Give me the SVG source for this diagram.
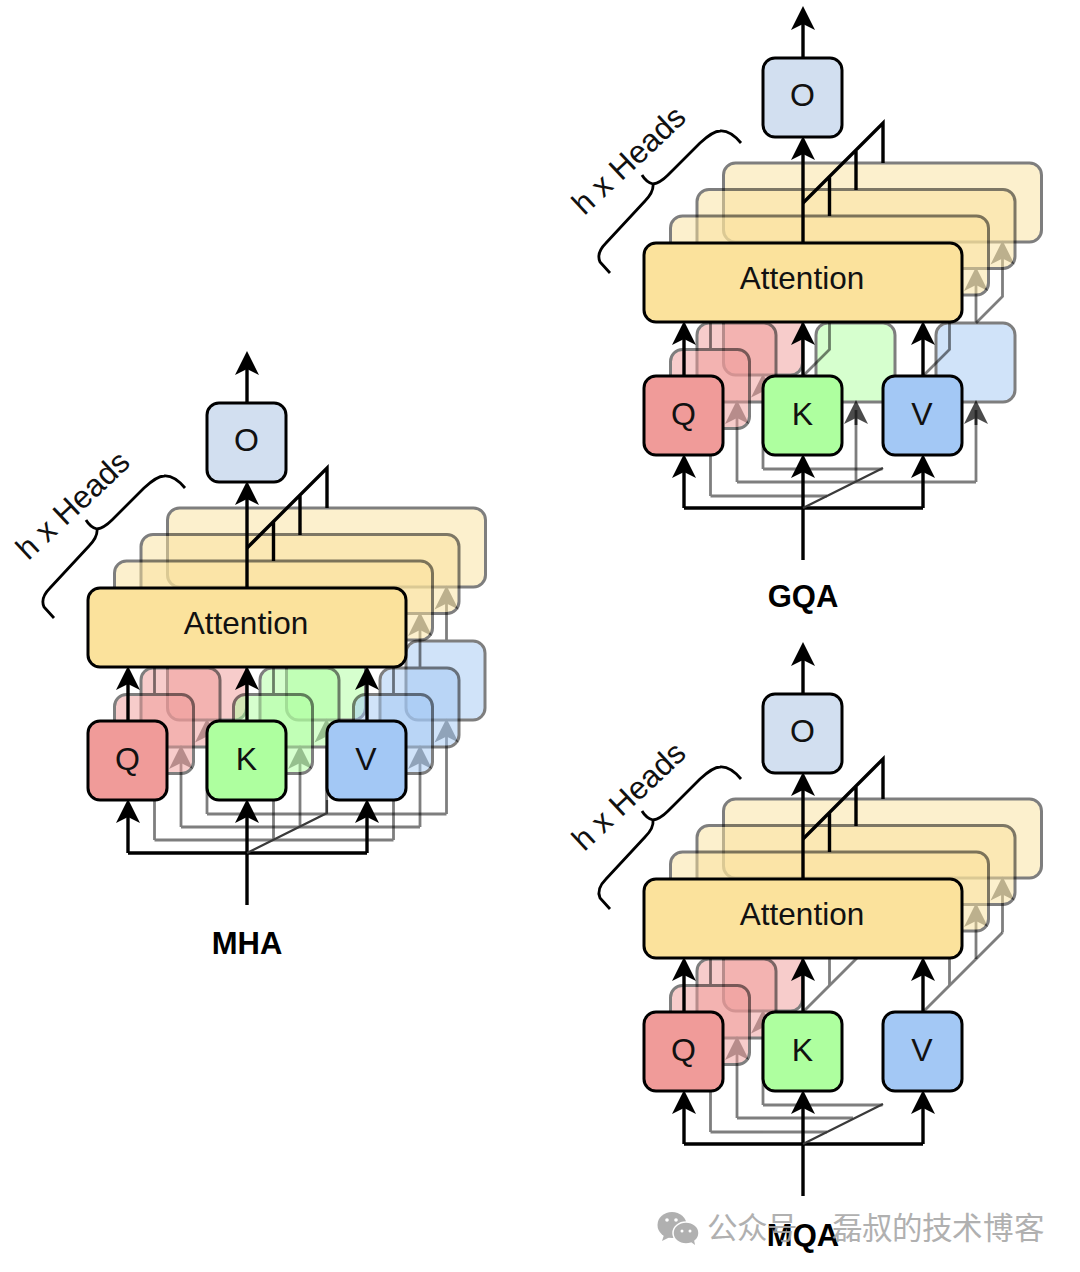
<svg xmlns="http://www.w3.org/2000/svg" width="1080" height="1272" viewBox="0 0 1080 1272">
<style>
text{font-family:"Liberation Sans",Arial,sans-serif;fill:#111}
.n{font-size:32px;text-anchor:middle}
.t{font-size:31.5px;text-anchor:middle}
.b{font-size:31px;font-weight:700;text-anchor:middle;fill:#000}
.h{font-size:31.500px;text-anchor:middle}
rect{stroke:#000;stroke-width:3}
.q{fill:#f09b99}.k{fill:#aeff9f}.v{fill:#a3c8f5}.a{fill:#fbe29c}.o{fill:#d2dff0}
.ly{opacity:.5}
.c path,.c{fill:none;stroke:#000;stroke-width:3.400}
.c .s{stroke:#000;stroke-width:2.800}
.c .d{stroke:#3a3a3a;stroke-width:2.200}
.dk{opacity:.7}
.ar{marker-end:url(#ah)}
.wm{font-family:"Noto Sans CJK SC","Liberation Sans",sans-serif;font-size:30.500px;fill:#a8a8a8}
</style>
<defs>
<marker id="ah" markerUnits="userSpaceOnUse" markerWidth="28" markerHeight="28" refX="14" refY="14" orient="auto"><path d="M0,2L24,14L0,26L6,14Z" fill="#000" stroke="none"/></marker>
<path id="brace" d="M185,488Q174,475 164,476Q157,476 144,488L112,520Q104,528 97,529M86,520Q90,527 97,529Q98,537 89,546L50,588Q40,598 44,607L54,618" fill="none" stroke="#000" stroke-width="2.800"/>
</defs>

<g id="mha" >
<g id="mha-layer3" class="ly"><g id="mha-nodes3"><rect class="a" x="167.500" y="508" width="318" height="79" rx="12"/><rect class="q" x="167.500" y="641" width="79" height="79" rx="12"/><rect class="k" x="286.500" y="641" width="79" height="79" rx="12"/><rect class="v" x="406" y="641" width="79" height="79" rx="12"/></g>
<g class="c"><path class="s" d="M207,814H446.500"/><path class="s ar" d="M207,814V728.500"/><path class="s ar" d="M326.500,814V728.500"/><path class="s ar" d="M446.500,814V728.500"/><path class="s ar" d="M207,641V595.500"/><path class="s ar" d="M326.500,641V595.500"/><path class="s ar" d="M446.500,641V595.500"/></g></g>
<g id="mha-layer2" class="ly"><g id="mha-nodes2"><rect class="a" x="141" y="534.500" width="318" height="79" rx="12"/><rect class="q" x="141" y="668" width="79" height="79" rx="12"/><rect class="k" x="260" y="668" width="79" height="79" rx="12"/><rect class="v" x="380" y="668" width="79" height="79" rx="12"/></g>
<g class="c"><path class="s" d="M181,827H420"/><path class="s ar" d="M181,827V755"/><path class="s ar" d="M300,827V755"/><path class="s ar" d="M420,827V755"/><path class="s ar" d="M181,668V622"/><path class="s ar" d="M300,668V622"/><path class="s ar" d="M420,668V622"/></g></g>
<g id="mha-layer1" class="ly"><g id="mha-nodes1"><rect class="a" x="114.500" y="561" width="318" height="79" rx="12"/><rect class="q" x="114.500" y="694.500" width="79" height="79" rx="12"/><rect class="k" x="233.500" y="694.500" width="79" height="79" rx="12"/><rect class="v" x="353.500" y="694.500" width="79" height="79" rx="12"/></g>
<g class="c"><path class="s" d="M154.500,840H393.500"/><path class="s ar" d="M154.500,840V781.500"/><path class="s ar" d="M273.500,840V781.500"/><path class="s ar" d="M393.500,840V781.500"/><path class="s ar" d="M154.500,694.500V648.500"/><path class="s ar" d="M273.500,694.500V648.500"/><path class="s ar" d="M393.500,694.500V648.500"/></g></g>
<g id="mha-connectors" class="c"><path class="ar" d="M247,905V809"/><path d="M128,853H367"/><path class="ar" d="M128,853V809"/><path class="ar" d="M367,853V809"/><path class="ar" d="M128,721V676"/><path class="ar" d="M247,721V676"/><path class="ar" d="M367,721V676"/><path class="ar" d="M247,588V491"/><path class="ar" d="M247,403V361"/><path d="M247,548L327,468V508M300,495V535M273.500,521V561"/><path class="d" d="M247,853L327,813V800"/></g>
<g id="mha-q"><rect class="q" x="88" y="721" width="79" height="79" rx="12"/><text class="n" x="127.500" y="769.500">Q</text></g>
<g id="mha-k"><rect class="k" x="207" y="721" width="79" height="79" rx="12"/><text class="n" x="246.500" y="770">K</text></g>
<g id="mha-v"><rect class="v" x="327" y="721" width="79" height="79" rx="12"/><text class="n" x="366" y="770">V</text></g>
<g id="mha-attention"><rect class="a" x="88" y="588" width="318" height="79" rx="12"/><text class="t" x="246" y="634">Attention</text></g>
<g id="mha-o"><rect class="o" x="207" y="403" width="79" height="79" rx="12"/><text class="n" x="246.500" y="451">O</text></g>
<g id="mha-brace"><use href="#brace"/><text class="h" transform="translate(80,513) rotate(-43)">h x Heads</text></g>
<text class="b" x="247" y="954">MHA</text>
</g>

<g id="gqa" transform="translate(556,-345)">
<g id="gqa-layer3" class="ly"><rect class="a" x="167.500" y="508" width="318" height="79" rx="12"/><rect class="q" x="167.500" y="641" width="79" height="79" rx="12"/>
<g class="c"><path class="s" d="M207,814H326.500"/><path class="s ar" d="M207,814V728.500"/><path class="s ar" d="M207,641V595.500"/><path class="s ar" d="M420,668L446.500,641.500V595.500"/></g></g>
<g id="gqa-layer2" class="ly"><rect class="a" x="141" y="534.500" width="318" height="79" rx="12"/><rect class="q" x="141" y="668" width="79" height="79" rx="12"/><rect class="k" x="260" y="668" width="79" height="79" rx="12"/><rect class="v" x="380" y="668" width="79" height="79" rx="12"/>
<g class="c"><path class="s" d="M181,827H420"/><path class="s ar" d="M181,827V755"/><path class="s" d="M300,827V755"/><path class="s" d="M420,827V755"/><path class="s ar" d="M181,668V622"/><path class="s ar" d="M300,668V622"/><path class="s ar" d="M420,668V622"/></g></g>
<g id="gqa-layer1" class="ly"><rect class="a" x="114.500" y="561" width="318" height="79" rx="12"/><rect class="q" x="114.500" y="694.500" width="79" height="79" rx="12"/>
<g class="c"><path class="s" d="M154.500,841H271"/><path class="s ar" d="M154.500,841V781.500"/><path class="s ar" d="M154.500,694.500V648.500"/><path class="s ar" d="M247,721L273.500,694.500V648.500"/><path class="s ar" d="M367,721L393.500,694.500V648.500"/></g></g>
<g id="gqa-connectors" class="c"><g class="dk"><path class="s ar" d="M300,770V755"/><path class="s ar" d="M420,770V755"/></g><path class="ar" d="M247,905V809"/><path d="M128,853H367"/><path class="ar" d="M128,853V809"/><path class="ar" d="M367,853V809"/><path class="ar" d="M128,721V676"/><path class="ar" d="M247,721V676"/><path class="ar" d="M367,721V676"/><path class="ar" d="M247,588V491"/><path class="ar" d="M247,403V361"/><path d="M247,548L327,468V508M300,495V535M273.500,521V561"/><path class="d" d="M247,853L327,813"/></g>
<g id="gqa-q"><rect class="q" x="88" y="721" width="79" height="79" rx="12"/><text class="n" x="127.500" y="769.500">Q</text></g>
<g id="gqa-k"><rect class="k" x="207" y="721" width="79" height="79" rx="12"/><text class="n" x="246.500" y="770">K</text></g>
<g id="gqa-v"><rect class="v" x="327" y="721" width="79" height="79" rx="12"/><text class="n" x="366" y="770">V</text></g>
<g id="gqa-attention"><rect class="a" x="88" y="588" width="318" height="79" rx="12"/><text class="t" x="246" y="634">Attention</text></g>
<g id="gqa-o"><rect class="o" x="207" y="403" width="79" height="79" rx="12"/><text class="n" x="246.500" y="451">O</text></g>
<g id="gqa-brace"><use href="#brace"/><text class="h" transform="translate(80,513) rotate(-43)">h x Heads</text></g>
<text class="b" x="247" y="952">GQA</text>
</g>

<g id="mqa" transform="translate(556,291)">
<g id="mqa-layer3" class="ly"><rect class="a" x="167.500" y="508" width="318" height="79" rx="12"/><rect class="q" x="167.500" y="641" width="79" height="79" rx="12"/>
<g class="c"><path class="s" d="M207,814H326.500"/><path class="s ar" d="M207,814V728.500"/><path class="s ar" d="M207,641V595.500"/><path class="s ar" d="M326.500,641.500V595.500"/><path class="s ar" d="M446.500,641.500V595.500"/></g></g>
<g id="mqa-layer2" class="ly"><rect class="a" x="141" y="534.500" width="318" height="79" rx="12"/><rect class="q" x="141" y="668" width="79" height="79" rx="12"/>
<g class="c"><path class="s" d="M181,827H297"/><path class="s ar" d="M181,827V755"/><path class="s ar" d="M181,668V622"/><path class="s ar" d="M300,668V622"/><path class="s ar" d="M420,668V622"/></g></g>
<g id="mqa-layer1" class="ly"><rect class="a" x="114.500" y="561" width="318" height="79" rx="12"/><rect class="q" x="114.500" y="694.500" width="79" height="79" rx="12"/>
<g class="c"><path class="s" d="M154.500,841H271"/><path class="s ar" d="M154.500,841V781.500"/><path class="s ar" d="M154.500,694.500V648.500"/><path class="s" d="M247,721L326.500,641.500"/><path class="s" d="M367,721L446.500,641.500"/><path class="s ar" d="M273.500,694.500V648.500"/><path class="s ar" d="M393.500,694.500V648.500"/></g></g>
<g id="mqa-connectors" class="c"><path class="ar" d="M247,905V809"/><path d="M128,853H367"/><path class="ar" d="M128,853V809"/><path class="ar" d="M367,853V809"/><path class="ar" d="M128,721V676"/><path class="ar" d="M247,721V676"/><path class="ar" d="M367,721V676"/><path class="ar" d="M247,588V491"/><path class="ar" d="M247,403V361"/><path d="M247,548L327,468V508M300,495V535M273.500,521V561"/><path class="d" d="M247,853L327,813"/></g>
<g id="mqa-q"><rect class="q" x="88" y="721" width="79" height="79" rx="12"/><text class="n" x="127.500" y="769.500">Q</text></g>
<g id="mqa-k"><rect class="k" x="207" y="721" width="79" height="79" rx="12"/><text class="n" x="246.500" y="770">K</text></g>
<g id="mqa-v"><rect class="v" x="327" y="721" width="79" height="79" rx="12"/><text class="n" x="366" y="770">V</text></g>
<g id="mqa-attention"><rect class="a" x="88" y="588" width="318" height="79" rx="12"/><text class="t" x="246" y="634">Attention</text></g>
<g id="mqa-o"><rect class="o" x="207" y="403" width="79" height="79" rx="12"/><text class="n" x="246.500" y="451">O</text></g>
<g id="mqa-brace"><use href="#brace"/><text class="h" transform="translate(80,513) rotate(-43)">h x Heads</text></g>
<text class="b" x="247" y="955">MQA</text>
</g>

<g id="watermark" opacity=".9">
<ellipse cx="672" cy="1225" rx="14.500" ry="13" fill="#a8a8a8"/><path d="M664,1235l-2,6l8,-4z" fill="#a8a8a8"/>
<ellipse cx="686" cy="1233" rx="13" ry="11" fill="#a8a8a8" stroke="#fff" stroke-width="1.500"/><path d="M691,1242l4,3l-1,-5z" fill="#a8a8a8"/>
<circle cx="667" cy="1220" r="1.800" fill="#fff"/><circle cx="676" cy="1220" r="1.800" fill="#fff"/><circle cx="682" cy="1231" r="1.500" fill="#fff"/><circle cx="690" cy="1231" r="1.500" fill="#fff"/>
<text class="wm" x="707 737 767 798 832 862 892 922 952 983 1014" y="1239">公众号 磊叔的技术博客</text>
</g>
</svg>
